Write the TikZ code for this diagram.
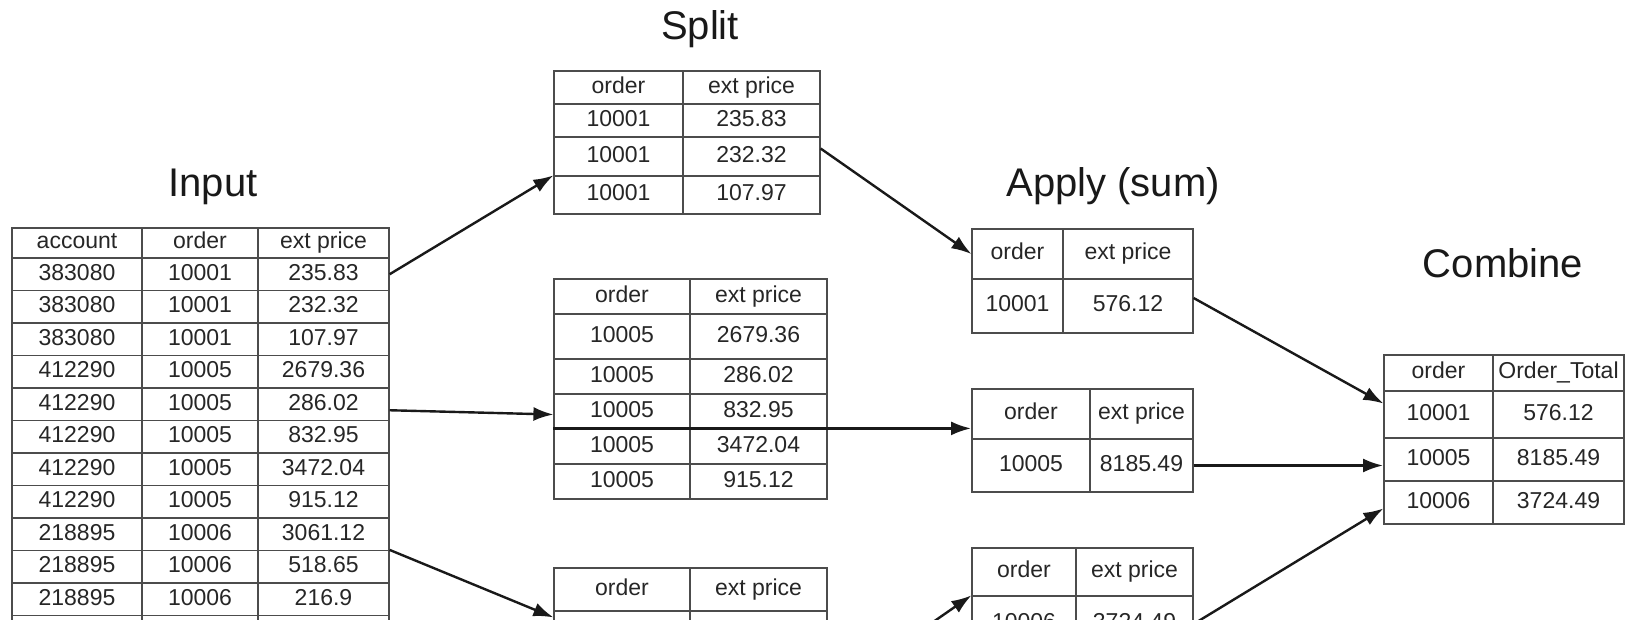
\documentclass[tikz,border=0pt]{standalone}
\usepackage{fontspec}
\setmainfont{Liberation Sans}
\usetikzlibrary{arrows.meta,matrix,positioning}

\begin{document}
\begin{tikzpicture}[x=0.5pt, y=-0.5pt,
	table/.style={matrix of nodes, inner sep=0pt, column sep=-0.6pt, row sep=-0.6pt, anchor=north west,
		nodes={draw=black!70, line width=0.6pt, inner sep=0pt, anchor=center, minimum height=16.25pt, text height=8.3pt, text depth=2.4pt, text=black!85, font=\fontsize{11.5}{13}\selectfont}},
	title/.style={anchor=base, text=black!90, font=\fontsize{20}{24}\selectfont},
	link/.style={->, line width=1.2pt, black!90}, >={Latex[length=10pt,width=7pt]}]
				\useasboundingbox (0,0) rectangle (1625,620);
				\clip (0,0) rectangle (1625,620);
				\node[title] (tinput) at (213,197) {Input};
				\node[title] (tsplit) at (700,40) {Split};
				\node[title] (tapply) at (1113,197) {Apply (sum)};
				\node[title] (tcombine) at (1503,277) {Combine};
				\matrix (input) [table, nodes in empty cells, column 1/.style={nodes={minimum width=65pt}}, column 2/.style={nodes={minimum width=58pt}}, column 3/.style={nodes={minimum width=65.5pt}}, row 1/.style={nodes={minimum height=15pt}}] at (11,227) {
					account & order & ext price \\
					383080 & 10001 & 235.83 \\
					383080 & 10001 & 232.32 \\
					383080 & 10001 & 107.97 \\
					412290 & 10005 & 2679.36 \\
					412290 & 10005 & 286.02 \\
					412290 & 10005 & 832.95 \\
					412290 & 10005 & 3472.04 \\
					412290 & 10005 & 915.12 \\
					218895 & 10006 & 3061.12 \\
					218895 & 10006 & 518.65 \\
					218895 & 10006 & 216.9 \\
					 & & \\
				};
				\matrix (split1) [table, column 1/.style={nodes={minimum width=64.5pt}}, column 2/.style={nodes={minimum width=68.5pt}}, row 1/.style={nodes={minimum height=16.5pt}}, row 2/.style={nodes={minimum height=16.5pt}}, row 3/.style={nodes={minimum height=19.5pt}}, row 4/.style={nodes={minimum height=19pt}}] at (553,70) {
					order & ext price \\
					10001 & 235.83 \\
					10001 & 232.32 \\
					10001 & 107.97 \\
				};
				\matrix (split2) [table, column 1/.style={nodes={minimum width=68pt}}, column 2/.style={nodes={minimum width=68.5pt}}, nodes={minimum height=17.5pt}, row 2/.style={nodes={minimum height=22.5pt}}] at (553,278) {
					order & ext price \\
					10005 & 2679.36 \\
					10005 & 286.02 \\
					10005 & 832.95 \\
					10005 & 3472.04 \\
					10005 & 915.12 \\
				};
				\matrix (split3) [table, nodes in empty cells, column 1/.style={nodes={minimum width=68pt}}, column 2/.style={nodes={minimum width=68.5pt}}, row 1/.style={nodes={minimum height=21.5pt}}, row 2/.style={nodes={minimum height=22pt}}] at (553,567) {
					order & ext price \\
					 & \\
				};
				\matrix (apply1) [table, column 1/.style={nodes={minimum width=45.5pt}}, column 2/.style={nodes={minimum width=65pt}}, row 1/.style={nodes={minimum height=25pt}}, row 2/.style={nodes={minimum height=27pt}}] at (971,228) {
					order & ext price \\
					10001 & 576.12 \\
				};
				\matrix (apply2) [table, column 1/.style={nodes={minimum width=59pt}}, column 2/.style={nodes={minimum width=51.5pt}}, row 1/.style={nodes={minimum height=25pt}}, row 2/.style={nodes={minimum height=26.5pt}}] at (971,388) {
					order & ext price \\
					10005 & 8185.49 \\
				};
				\matrix (apply3) [table, column 1/.style={nodes={minimum width=52pt}}, column 2/.style={nodes={minimum width=58.5pt}}, row 1/.style={nodes={minimum height=24pt}}, row 2/.style={nodes={minimum height=28pt}}] at (971,547) {
					order & ext price \\
					10006 & 3724.49 \\
				};
				\matrix (combine) [table, column 1/.style={nodes={minimum width=54.5pt}}, column 2/.style={nodes={minimum width=65.5pt}}, nodes={minimum height=21.5pt}, row 1/.style={nodes={minimum height=18pt}}, row 2/.style={nodes={minimum height=23.5pt}}] at (1383,354) {
					order & Order\_Total \\
					10001 & 576.12 \\
					10005 & 8185.49 \\
					10006 & 3724.49 \\
				};
				\draw[link] (input-2-3.east) to (split1-4-1.north west);
				\draw[link] ([yshift=-3pt]input-6-3.east) to ([yshift=-1.5pt]split2-4-1.west);
				\draw[link] (input-11-3.north east) to ([yshift=-3.5pt]split3-2-1.north west);
				\draw[link] ([yshift=4pt]split1-3-2.east) to (apply1-1-1.west);
				\draw[link] (split2-5-1.north west) to (split2-5-1.north west -| apply2.west);
				\draw[link] ([yshift=-64pt]split3.north east) to (apply3-2-1.north west);
				\draw[link] ([yshift=4pt]apply1-2-2.east) to ([yshift=5.5pt]combine-2-1.west);
				\draw[link] (apply2-2-2.east) to (apply2-2-2.east -| combine.west);
				\draw[link] (apply3-2-2.east) to ([yshift=-3pt]combine-4-1.west);
			\end{tikzpicture}
\end{document}
